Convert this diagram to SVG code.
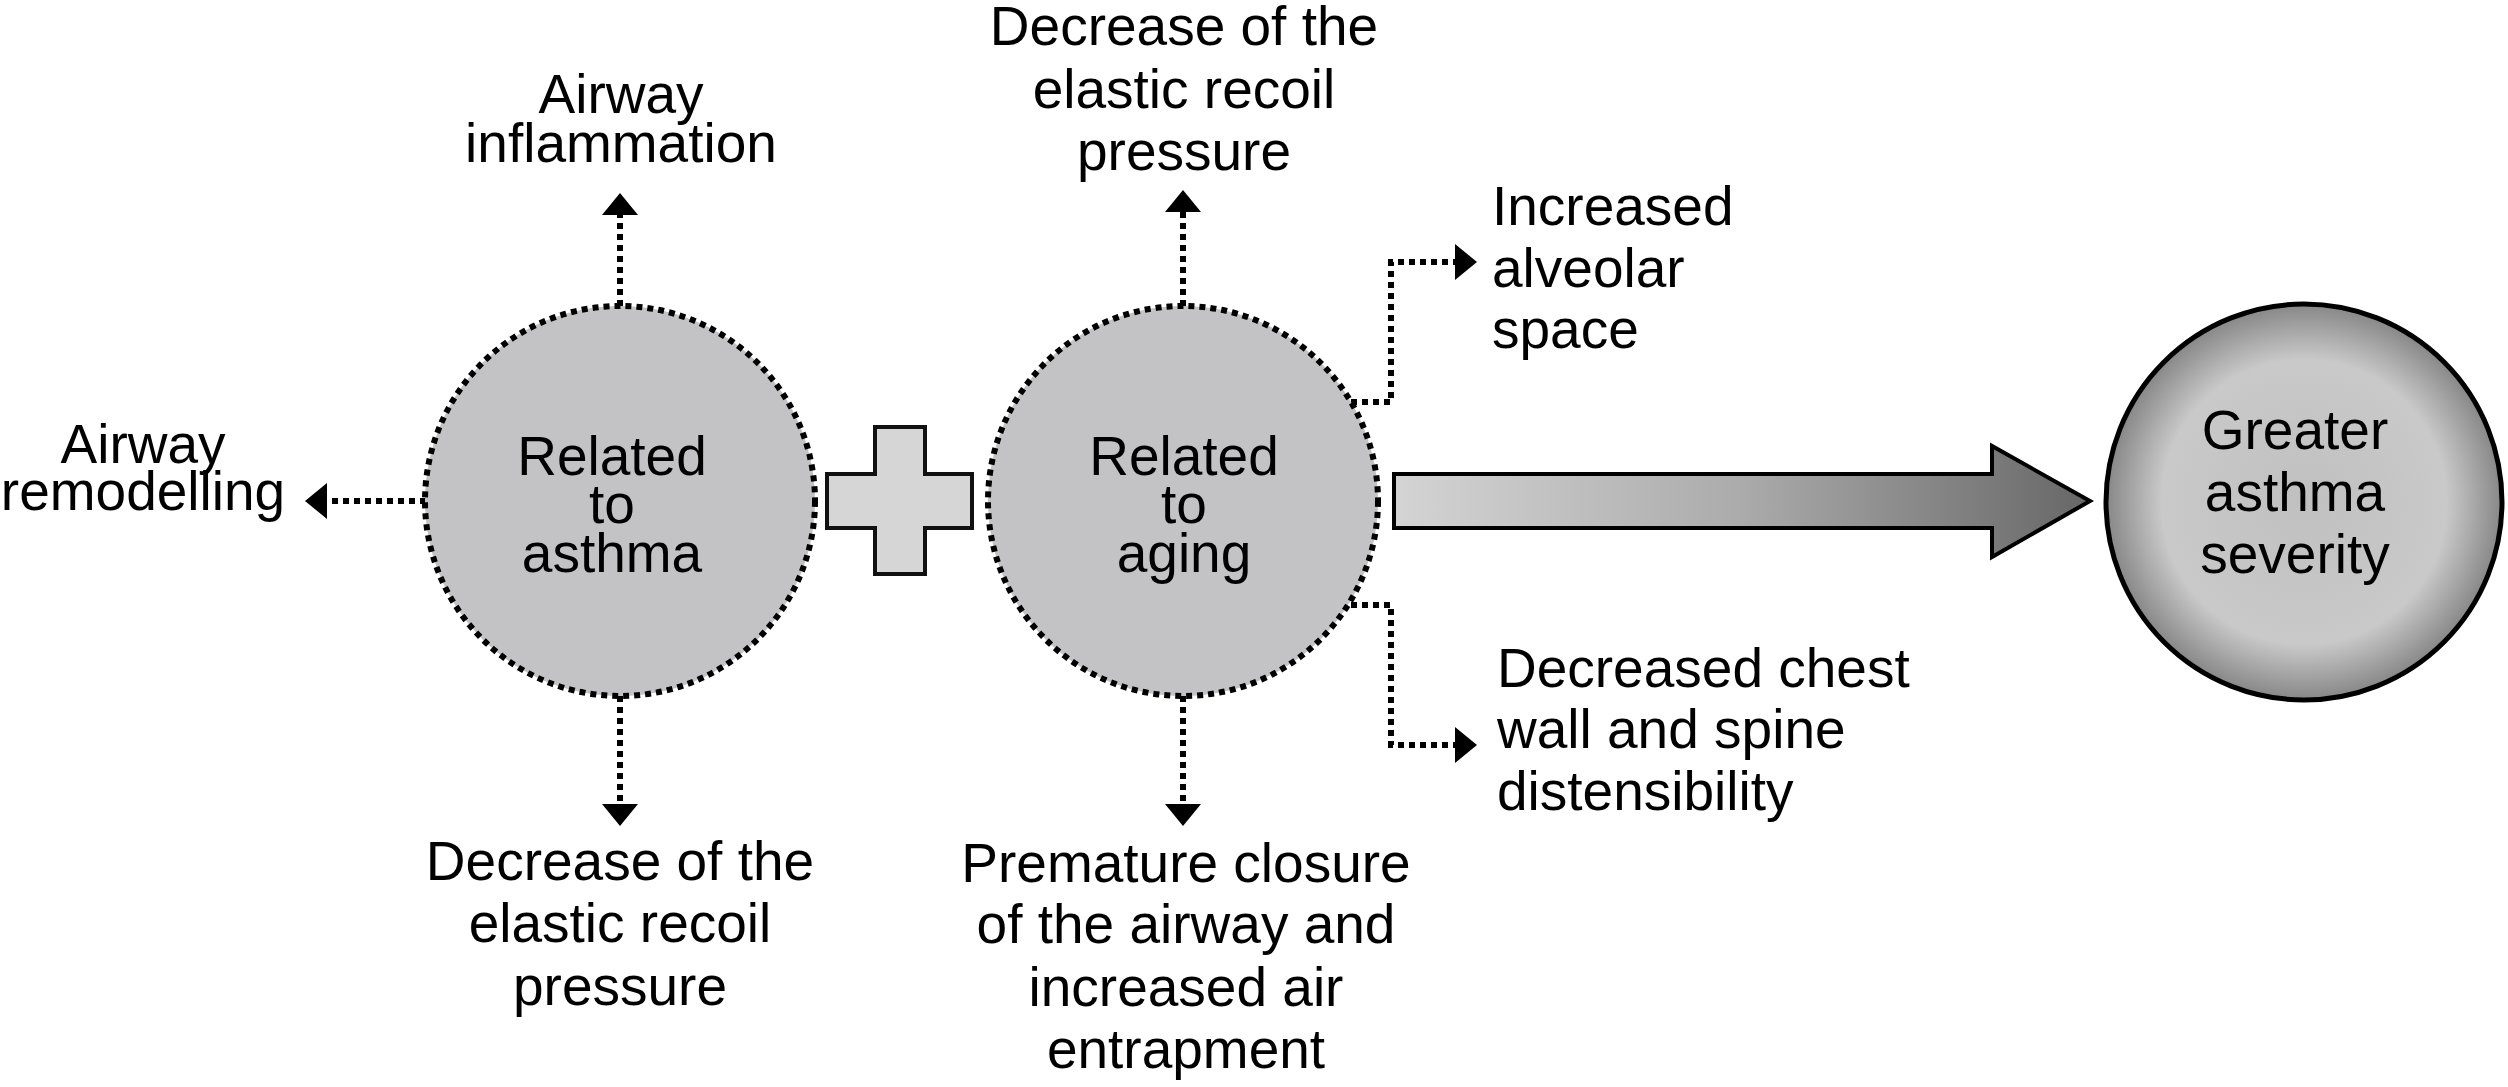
<svg xmlns="http://www.w3.org/2000/svg" width="2508" height="1087" viewBox="0 0 2508 1087">
<style>
text{font-family:"Liberation Sans",Arial,sans-serif;font-size:55px;fill:#000}
.c{text-anchor:middle}
.s{text-anchor:start}
.dot{fill:none;stroke:#000;stroke-width:6;stroke-dasharray:6 5}
.conn{marker-end:url(#ah)}
</style>
<defs>
<marker id="ah" viewBox="0 0 22 36" refX="0" refY="18" markerWidth="22" markerHeight="36" markerUnits="userSpaceOnUse" orient="auto">
<path d="M0,0 L22,18 L0,36 Z" fill="#000"/>
</marker>
<linearGradient id="ag" gradientUnits="userSpaceOnUse" x1="1394" y1="0" x2="2090" y2="0">
<stop offset="0" stop-color="#d4d4d4"/>
<stop offset="0.5" stop-color="#ababab"/>
<stop offset="1" stop-color="#676767"/>
</linearGradient>
<radialGradient id="rg" cx="0.5" cy="0.5" r="0.5">
<stop offset="0" stop-color="#c0c0c0"/>
<stop offset="0.72" stop-color="#c9c9c9"/>
<stop offset="1" stop-color="#878787"/>
</radialGradient>
</defs>
<rect width="2508" height="1087" fill="#fff"/>
<g id="connectors">
<path class="dot conn" d="M620,306 V215"/>
<path class="dot conn" d="M620,696 V804"/>
<path class="dot conn" d="M426,501 H327"/>
<path class="dot conn" d="M1183,306 V212"/>
<path class="dot conn" d="M1183,696 V804"/>
<path class="dot conn" d="M1351,402 H1391 V262 H1455"/>
<path class="dot conn" d="M1351,605 H1391 V745 H1455"/>
<path id="big-arrow" d="M1394,474 H1992 V446 L2090,501 L1992,557 V528 H1394 Z" fill="url(#ag)" stroke="#000" stroke-width="4"/>
</g>
<g id="node-asthma">
<circle cx="620" cy="501" r="195" class="dot" style="fill:#c3c2c4"/>
<text class="c" x="612" y="475">Related</text>
<text class="c" x="612" y="523">to</text>
<text class="c" x="612" y="572">asthma</text>
</g>
<g id="node-plus">
<path d="M875,427 H925 V474 H972 V528 H925 V574 H875 V528 H827 V474 H875 Z" fill="#d6d6d6" stroke="#111" stroke-width="4"/>
</g>
<g id="node-aging">
<circle cx="1183" cy="501" r="195" class="dot" style="fill:#c3c2c4"/>
<text class="c" x="1184" y="475">Related</text>
<text class="c" x="1184" y="523">to</text>
<text class="c" x="1184" y="572">aging</text>
</g>
<g id="node-severity">
<circle cx="2304" cy="502" r="198" fill="url(#rg)" stroke="#000" stroke-width="5"/>
<text class="c" x="2295" y="449">Greater</text>
<text class="c" x="2295" y="511">asthma</text>
<text class="c" x="2295" y="573">severity</text>
</g>
<g id="label-inflammation">
<text class="c" x="621" y="113">Airway</text>
<text class="c" x="621" y="162">inflammation</text>
</g>
<g id="label-elastic-top">
<text class="c" x="1184" y="45">Decrease of the</text>
<text class="c" x="1184" y="108">elastic recoil</text>
<text class="c" x="1184" y="170">pressure</text>
</g>
<g id="label-remodelling">
<text class="c" x="143" y="463">Airway</text>
<text class="c" x="143" y="510">remodelling</text>
</g>
<g id="label-elastic-bottom">
<text class="c" x="620" y="880">Decrease of the</text>
<text class="c" x="620" y="942">elastic recoil</text>
<text class="c" x="620" y="1005">pressure</text>
</g>
<g id="label-closure">
<text class="c" x="1186" y="882">Premature closure</text>
<text class="c" x="1186" y="943">of the airway and</text>
<text class="c" x="1186" y="1006">increased air</text>
<text class="c" x="1186" y="1068">entrapment</text>
</g>
<g id="label-alveolar">
<text class="s" x="1492" y="225">Increased</text>
<text class="s" x="1492" y="287">alveolar</text>
<text class="s" x="1492" y="348">space</text>
</g>
<g id="label-chest">
<text class="s" x="1497" y="687">Decreased chest</text>
<text class="s" x="1497" y="748">wall and spine</text>
<text class="s" x="1497" y="810">distensibility</text>
</g>
</svg>
